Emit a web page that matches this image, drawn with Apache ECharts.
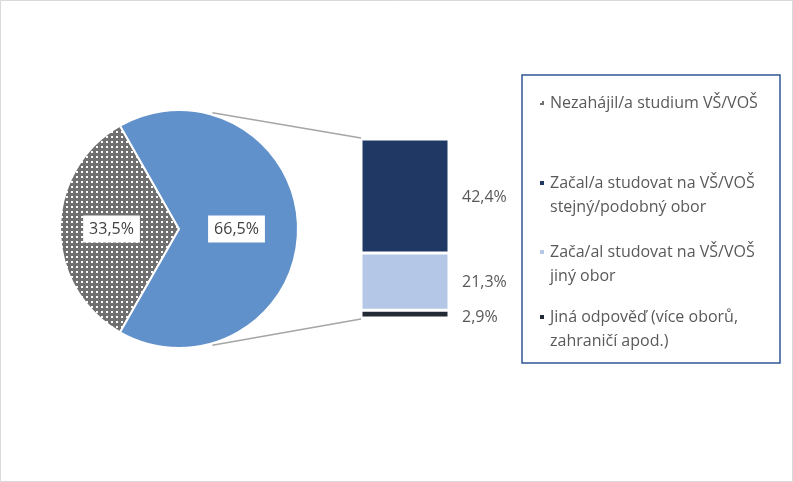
<!DOCTYPE html>
<html>
<head>
<meta charset="utf-8">
<script src="https://cdn.jsdelivr.net/npm/echarts@6/dist/echarts.min.js"></script>
<style>
  html, body { margin: 0; padding: 0; background: #fff; }
  #chart { width: 793px; height: 482px; }
</style>
</head>
<body>
<div id="chart"></div>
<script>
// pie: share of graduates who did / did not start university studies
const pieNames = ['Nezahájil/a studium VŠ/VOŠ', 'Začal/a studovat na VŠ/VOŠ'];
const pieValues = [33.5, 66.5];

// split of the "started" slice, stacked bottom -> top
const barLabels = [
    ['Jiná odpověď (více oborů,', 'zahraničí apod.)'],
    ['Zača/al studovat na VŠ/VOŠ', 'jiný obor'],
    ['Začal/a studovat na VŠ/VOŠ', 'stejný/podobný obor']
];
const barValues = [2.9, 21.3, 42.4];

const pieColors = ['pattern', '#6191cb'];
const barColors = ['#222a35', '#b4c7e7', '#1f3864'];

const fontFamily = '"Open Sans", "Noto Sans", sans-serif';
const textGray = '#595959';

function fmt(v) {
    return v.toFixed(1).replace('.', ',') + '%';
}

// dotted fill for the "not started" slice
function dotPattern() {
    const c = document.createElement('canvas');
    c.width = 5;
    c.height = 5;
    const ctx = c.getContext('2d');
    ctx.fillStyle = '#707070';
    ctx.fillRect(0, 0, 5, 5);
    ctx.fillStyle = '#ffffff';
    ctx.fillRect(1, 1, 2, 2);
    return { image: c, repeat: 'repeat' };
}

const pieCenter = [179, 229];
const pieRadius = 119;
const barWidth = 88;

const barNames = barLabels.map(l => l.join(' '));
const lineTexts = {};
lineTexts[pieNames[0]] = [pieNames[0]];
barLabels.forEach((l, i) => { lineTexts[barNames[i]] = l; });

// legend entries, top to bottom, with the pixel row of the marker
const legendOrder = [pieNames[0], barNames[2], barNames[1], barNames[0]];
const legendRows = [103, 183, 252, 317];

const lineH = 24;
const legends = legendOrder.map((name, i) => {
    const lines = lineTexts[name];
    const two = lines.length > 1;
    return {
        data: [name],
        left: 538,
        top: legendRows[i] - (two ? 36 : 12),
        padding: 0,
        icon: 'rect',
        itemWidth: 6,
        itemHeight: 6,
        itemGap: 6,
        selectedMode: false,
        // leading empty line keeps the marker level with the first text line
        formatter: () => (two ? '\n' : '') + lines.join('\n'),
        textStyle: {
            color: textGray,
            fontSize: 16,
            fontFamily: fontFamily,
            lineHeight: lineH
        }
    };
});

const pattern = dotPattern();

const barSeries = barValues.map((v, i) => ({
    name: barNames[i],
    type: 'bar',
    stack: 'split',
    barWidth: barWidth,
    data: [v],
    itemStyle: { color: barColors[i], borderColor: '#fff', borderWidth: 1.5 },
    label: {
        show: true,
        position: 'right',
        distance: 13,
        offset: i === 0 ? [0, 3] : [0, 1],
        color: textGray,
        fontSize: 16,
        fontFamily: fontFamily,
        formatter: p => fmt(p.value)
    }
}));

const barTotal = barValues.reduce((a, b) => a + b, 0);

const chart = echarts.init(document.getElementById('chart'), null, { renderer: 'canvas' });

chart.setOption({
    animation: false,
    backgroundColor: '#fff',
    legend: legends,
    grid: { left: 340, width: 130, top: 139, height: 179 },
    xAxis: { type: 'category', data: [''], show: false },
    yAxis: { type: 'value', min: 0, max: barTotal, show: false },
    series: [
        {
            type: 'pie',
            center: pieCenter,
            radius: pieRadius,
            startAngle: 180 + pieValues[0] / 100 * 180,
            clockwise: true,
            data: pieValues.map((v, i) => ({
                name: pieNames[i],
                value: v,
                itemStyle: { color: i === 0 ? pattern : pieColors[i] },
                label: { offset: [-5, 0] }
            })),
            itemStyle: { borderColor: '#fff', borderWidth: 2 },
            label: {
                show: true,
                position: 'inside',
                formatter: p => fmt(p.value),
                color: '#404040',
                fontSize: 16,
                fontFamily: fontFamily,
                backgroundColor: '#fff',
                padding: [6, 6, 5, 6]
            },
            labelLine: { show: false },
            emphasis: { disabled: true }
        }
    ].concat(barSeries)
});

// connector lines from the pie to the stacked bar, plus frames
const barLeft = chart.convertToPixel({ xAxisIndex: 0 }, 0) - barWidth / 2;
const barTop = chart.convertToPixel({ yAxisIndex: 0 }, barTotal);
const barBottom = chart.convertToPixel({ yAxisIndex: 0 }, 0);
const a = 74 * Math.PI / 180;
const r = pieRadius + 2;

chart.setOption({
    graphic: [
        {
            type: 'rect',
            shape: { x: 0.5, y: 0.5, width: 792, height: 481 },
            style: { fill: null, stroke: '#d9d9d9', lineWidth: 1 },
            silent: true
        },
        {
            type: 'rect',
            shape: { x: 522, y: 75, width: 258, height: 288 },
            style: { fill: null, stroke: '#2f5597', lineWidth: 1.5 },
            silent: true
        },
        {
            type: 'line',
            shape: {
                x1: pieCenter[0] + r * Math.cos(a), y1: pieCenter[1] - r * Math.sin(a),
                x2: barLeft, y2: barTop - 1
            },
            style: { stroke: '#a6a6a6', lineWidth: 1.5 },
            silent: true
        },
        {
            type: 'line',
            shape: {
                x1: pieCenter[0] + r * Math.cos(a), y1: pieCenter[1] + r * Math.sin(a),
                x2: barLeft, y2: barBottom + 1
            },
            style: { stroke: '#a6a6a6', lineWidth: 1.5 },
            silent: true
        }
    ]
});
</script>
</body>
</html>
